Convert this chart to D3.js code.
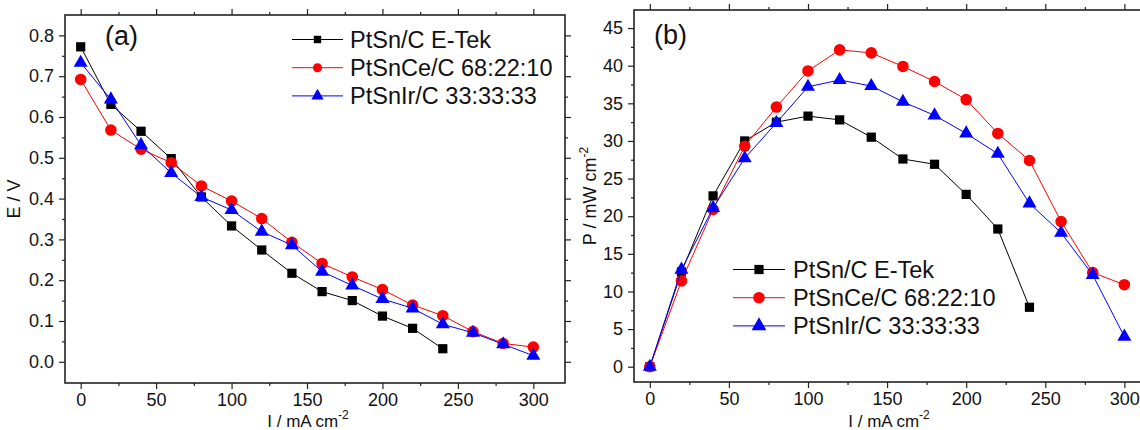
<!DOCTYPE html>
<html>
<head>
<meta charset="utf-8">
<script src="https://cdn.jsdelivr.net/npm/d3@7"></script>
<style>
  body { margin: 0; background: #fff; }
  svg { display: block; font-family: Arial, "Liberation Sans", sans-serif; }
</style>
</head>
<body>
<svg width="1140" height="430"></svg>
<script>
// current density, mA cm-2
var current = [0, 20, 40, 60, 80, 100, 120, 140, 160, 180, 200, 220, 240, 260, 280, 300];

var seriesNames = ["PtSn/C E-Tek", "PtSnCe/C 68:22:10", "PtSnIr/C 33:33:33"];

// cell voltage E / V
var ePtSn   = [0.772, 0.631, 0.565, 0.498, 0.404, 0.333, 0.274, 0.217, 0.172, 0.150, 0.112, 0.082, 0.032];
var ePtSnCe = [0.692, 0.568, 0.521, 0.488, 0.431, 0.394, 0.351, 0.293, 0.241, 0.208, 0.177, 0.139, 0.113, 0.074, 0.045, 0.036];
var ePtSnIr = [0.733, 0.643, 0.531, 0.463, 0.404, 0.372, 0.319, 0.286, 0.221, 0.187, 0.154, 0.131, 0.092, 0.071, 0.043, 0.015];

// power density P / mW cm-2
var pPtSn   = [0, 12.6, 22.7, 30.0, 32.5, 33.3, 32.8, 30.5, 27.6, 26.9, 22.9, 18.3, 7.9];
var pPtSnCe = [0, 11.4, 20.9, 29.3, 34.5, 39.3, 42.1, 41.7, 39.9, 37.9, 35.5, 31.0, 27.4, 19.3, 12.5, 10.9];
var pPtSnIr = [0, 12.9, 21.1, 27.7, 32.4, 37.2, 38.1, 37.3, 35.2, 33.4, 31.0, 28.3, 21.7, 17.8, 12.2, 4.0];

var eTicks = [0.0, 0.1, 0.2, 0.3, 0.4, 0.5, 0.6, 0.7, 0.8];
var pTicks = [0, 5, 10, 15, 20, 25, 30, 35, 40, 45];
var iTicks = [0, 50, 100, 150, 200, 250, 300];

var colors = ["#000000", "#ff0000", "#0000ff"];
var symbols = [d3.symbolSquare, d3.symbolCircle, d3.symbolTriangle];
var symSizes = [85, 105, 85];

var svg = d3.select("svg");

function pack(values) {
  return values.map(function(v, i) { return { x: current[i], y: v }; });
}

function panel(opt) {
  var g = svg.append("g");
  var x = d3.scaleLinear().domain(opt.xDomain).range([opt.left, opt.right]);
  var y = d3.scaleLinear().domain(opt.yDomain).range([opt.bottom, opt.top]);

  // minor ticks
  var xMinor = d3.range(25, 325, 50);
  var yMinor = opt.yMinor;

  g.append("g")
    .attr("transform", "translate(0," + opt.bottom + ")")
    .call(d3.axisBottom(x).tickValues(xMinor).tickSize(3).tickFormat(""));
  g.append("g")
    .attr("transform", "translate(0," + opt.top + ")")
    .call(d3.axisTop(x).tickValues(xMinor).tickSize(3).tickFormat(""));
  g.append("g")
    .attr("transform", "translate(" + opt.left + ",0)")
    .call(d3.axisLeft(y).tickValues(yMinor).tickSize(3).tickFormat(""));
  g.append("g")
    .attr("transform", "translate(" + opt.right + ",0)")
    .call(d3.axisRight(y).tickValues(yMinor).tickSize(3).tickFormat(""));

  // major ticks
  g.append("g")
    .attr("transform", "translate(0," + opt.bottom + ")")
    .call(d3.axisBottom(x).tickValues(iTicks).tickSize(6).tickPadding(4));
  g.append("g")
    .attr("transform", "translate(0," + opt.top + ")")
    .call(d3.axisTop(x).tickValues(iTicks).tickSize(6).tickFormat(""));
  g.append("g")
    .attr("transform", "translate(" + opt.left + ",0)")
    .call(d3.axisLeft(y).tickValues(opt.yTicks).tickSize(6).tickPadding(5).tickFormat(opt.yFormat));
  g.append("g")
    .attr("transform", "translate(" + opt.right + ",0)")
    .call(d3.axisRight(y).tickValues(opt.yTicks).tickSize(6).tickFormat(""));

  g.selectAll(".domain").remove();
  g.selectAll(".tick line").attr("stroke", "#222").attr("stroke-width", 1.2);
  g.selectAll(".tick text").attr("font-size", 18).attr("fill", "#111")
    .attr("font-family", "Arial, 'Liberation Sans', sans-serif");

  g.append("rect")
    .attr("x", opt.left).attr("y", opt.top)
    .attr("width", opt.right - opt.left).attr("height", opt.bottom - opt.top)
    .attr("fill", "none").attr("stroke", "#222").attr("stroke-width", 1.6);

  var line = d3.line().x(function(d) { return x(d.x); }).y(function(d) { return y(d.y); });

  opt.series.forEach(function(vals, k) {
    var pts = pack(vals);
    g.append("path").datum(pts)
      .attr("d", line).attr("fill", "none")
      .attr("stroke", colors[k]).attr("stroke-width", 1);
    g.selectAll(".m" + k).data(pts).enter().append("path")
      .attr("class", "m" + k)
      .attr("transform", function(d) { return "translate(" + x(d.x) + "," + y(d.y) + ")"; })
      .attr("d", d3.symbol().type(symbols[k]).size(symSizes[k]))
      .attr("fill", colors[k]);
  });

  // panel letter
  g.append("text").attr("x", opt.letterX).attr("y", opt.letterY)
    .attr("font-size", 27).attr("fill", "#111").text(opt.letter);

  // axis titles
  var xt = g.append("text")
    .attr("x", opt.xTitleX).attr("y", 427)
    .attr("text-anchor", "middle").attr("font-size", 17).attr("fill", "#111");
  xt.append("tspan").text("I / mA cm");
  xt.append("tspan").attr("font-size", 12).attr("dy", -8).text("-2");

  var yt = g.append("text")
    .attr("transform", "translate(" + opt.yTitleX + "," + ((opt.top + opt.bottom) / 2) + ") rotate(-90)")
    .attr("text-anchor", "middle").attr("font-size", 18).attr("fill", "#111");
  yt.append("tspan").text(opt.yTitle);
  if (opt.yTitleSup) {
    yt.append("tspan").attr("font-size", 12).attr("dy", -8).text(opt.yTitleSup);
  }

  // legend
  var lg = g.append("g");
  seriesNames.forEach(function(name, k) {
    var ly = opt.legendY + k * 28.2;
    lg.append("line")
      .attr("x1", opt.legendX).attr("x2", opt.legendX + opt.legendLen)
      .attr("y1", ly).attr("y2", ly)
      .attr("stroke", colors[k]).attr("stroke-width", 1);
    lg.append("path")
      .attr("transform", "translate(" + (opt.legendX + opt.legendLen / 2) + "," + ly + ")")
      .attr("d", d3.symbol().type(symbols[k]).size(opt.legendSym[k]))
      .attr("fill", colors[k]);
    lg.append("text")
      .attr("x", opt.legendTextX).attr("y", ly + 8)
      .attr("font-size", opt.legendFont).attr("fill", "#111").text(name);
  });
}

panel({
  left: 65, right: 565, top: 15, bottom: 383,
  xDomain: [-10.4, 321],
  yDomain: [-0.052, 0.85],
  yTicks: eTicks,
  yMinor: d3.range(0.05, 0.85, 0.1),
  yFormat: d3.format(".1f"),
  series: [ePtSn, ePtSnCe, ePtSnIr],
  letter: "(a)", letterX: 105, letterY: 45,
  xTitleX: 308,
  yTitle: "E / V", yTitleX: 20,
  legendX: 292, legendY: 39.5, legendLen: 51, legendTextX: 350, legendFont: 23.5,
  legendSym: [55, 65, 65]
});

panel({
  left: 634, right: 1156, top: 10, bottom: 382,
  xDomain: [-10, 320],
  yDomain: [-2.03, 47.4],
  yTicks: pTicks,
  yMinor: d3.range(2.5, 47.5, 5),
  yFormat: d3.format("d"),
  series: [pPtSn, pPtSnCe, pPtSnIr],
  letter: "(b)", letterX: 654, letterY: 44,
  xTitleX: 889,
  yTitle: "P / mW cm", yTitleSup: "-2", yTitleX: 596,
  legendX: 733, legendY: 269.5, legendLen: 52, legendTextX: 793, legendFont: 23.5,
  legendSym: [85, 105, 95]
});
</script>
</body>
</html>
